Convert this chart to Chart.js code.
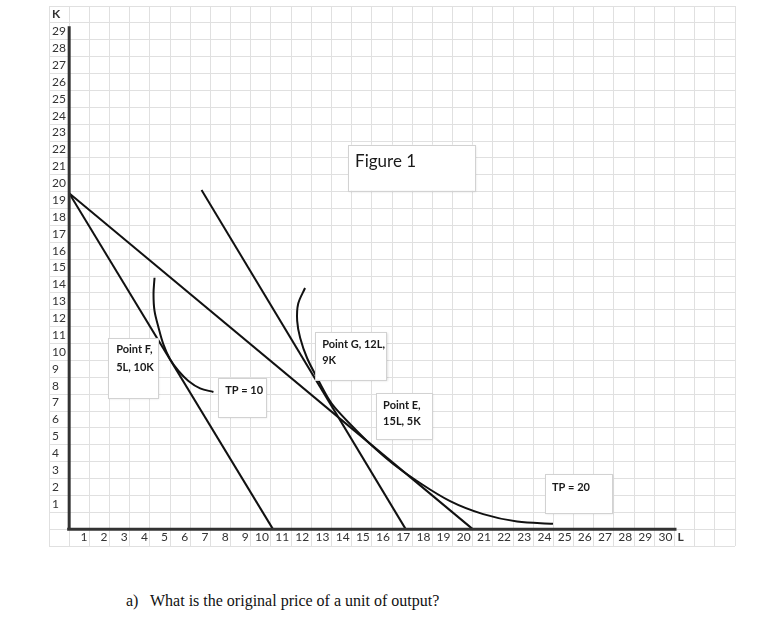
<!DOCTYPE html>
<html>
<head>
<meta charset="utf-8">
<script src="https://cdn.jsdelivr.net/npm/chart.js@4.4.1/dist/chart.umd.min.js"></script>
<style>
  html, body { margin: 0; padding: 0; background: #fff; }
  #wrap { position: relative; width: 768px; height: 620px; }
  canvas { position: absolute; left: 0; top: 0; }
  #pergunta { position: absolute; left: 126px; top: 592px; line-height: 18px;
    font-family: "Liberation Serif", "Times New Roman", serif; font-size: 16px; color: #111; white-space: nowrap; }
  #pergunta span { display: inline-block; width: 24px; }
</style>
</head>
<body>
<div id="wrap">
  <canvas id="grafico" width="768" height="560"></canvas>
  <div id="pergunta"><span>a)</span>What is the original price of a unit of output?</div>
</div>
<script>
// --- DADOS (L no eixo x, K no eixo y) ---
const kTicks = [1, 2, 3, 4, 5, 6, 7, 8, 9, 10, 11, 12, 13, 14, 15, 16, 17, 18, 19, 20, 21, 22, 23, 24, 25, 26, 27, 28, 29];
const lTicks = [1, 2, 3, 4, 5, 6, 7, 8, 9, 10, 11, 12, 13, 14, 15, 16, 17, 18, 19, 20, 21, 22, 23, 24, 25, 26, 27, 28, 29, 30];
const kAxisName = 'K';
const lAxisName = 'L';

// retas de isocusto
const lineAL = [0, 10.1];
const lineAK = [19.9, 0];
const lineBL = [0, 20.0];
const lineBK = [19.9, 0];
const lineCL = [6.56, 16.68];
const lineCK = [20.1, 0];

// isoquantas
const tp10L = [4.23, 4.18, 4.23, 4.43, 4.67, 5.0, 5.42, 5.91, 6.49, 7.15];
const tp10K = [14.9, 13.92, 12.93, 11.94, 10.95, 10.06, 9.37, 8.78, 8.34, 8.13];
const tp20L = [11.69, 11.35, 11.30, 11.45, 11.79, 12.29, 12.83, 13.18, 13.92, 14.92, 16.06, 17.24, 18.88, 20.52, 22.20, 23.98];
const tp20K = [14.29, 13.35, 12.34, 11.33, 10.14, 8.96, 7.77, 7.18, 6.23, 5.04, 3.86, 2.85, 1.66, 0.89, 0.45, 0.32];

// eixos desenhados
const axisYL = [0, 0];
const axisYK = [0, 29.8];
const axisXL = [-0.1, 30.1];
const axisXK = [0, 0];

// textos das caixas
const noteTexts = [['Figure 1'], ['Point F,', '5L, 10K'], ['TP = 10'], ['Point G, 12L,', '9K'], ['Point E,', '15L, 5K'], ['TP = 20']];

// posição das caixas (em unidades L/K) — layout, não dados
const noteLayout = [
  { l0: 13.83, l1: 20.12, k0: 22.78, k1: 20.05, tl: 14.17, tk: [21.77], big: true },
  { l0: 1.93, l1: 4.41, k0: 11.33, k1: 7.77, tl: 2.33, tk: [10.62, 9.61] },
  { l0: 7.38, l1: 9.76, k0: 8.96, k1: 6.64, tl: 7.73, tk: [8.24] },
  { l0: 12.19, l1: 15.73, k0: 11.68, k1: 8.84, tl: 12.54, tk: [10.97, 10.02] },
  { l0: 15.21, l1: 17.99, k0: 8.07, k1: 5.34, tl: 15.56, tk: [7.35, 6.41] },
  { l0: 23.59, l1: 26.91, k0: 3.26, k1: 0.95, tl: 23.93, tk: [2.49] }
];

const FONTE = 'Lato, "Open Sans", sans-serif';

function pontos(ls, ks) {
  return ls.map((l, i) => ({ x: l, y: ks[i] }));
}

function serie(ls, ks, extra) {
  return Object.assign({
    data: pontos(ls, ks),
    showLine: true,
    borderColor: '#111',
    borderWidth: 2,
    pointRadius: 0,
    fill: false
  }, extra || {});
}

// caixas de texto
const caixas = {
  id: 'caixas',
  afterDatasetsDraw(chart) {
    const { ctx, scales: { x, y } } = chart;
    noteLayout.forEach((n, i) => {
      const px0 = x.getPixelForValue(n.l0), px1 = x.getPixelForValue(n.l1);
      const py0 = y.getPixelForValue(n.k0), py1 = y.getPixelForValue(n.k1);
      ctx.save();
      ctx.shadowColor = 'rgba(0,0,0,0.12)';
      ctx.shadowBlur = 2;
      ctx.shadowOffsetX = 1;
      ctx.shadowOffsetY = 1;
      ctx.fillStyle = '#fff';
      ctx.fillRect(px0, py0, px1 - px0, py1 - py0);
      ctx.restore();
      ctx.save();
      ctx.strokeStyle = '#d2d2d2';
      ctx.lineWidth = 1;
      ctx.strokeRect(Math.round(px0) + 0.5, Math.round(py0) + 0.5, Math.round(px1 - px0), Math.round(py1 - py0));
      ctx.fillStyle = '#1a1a1a';
      ctx.textAlign = 'left';
      ctx.textBaseline = 'middle';
      ctx.font = n.big ? '17px ' + FONTE : 'bold 11px ' + FONTE;
      noteTexts[i].forEach((t, j) => {
        ctx.fillText(t, x.getPixelForValue(n.tl), y.getPixelForValue(n.tk[j]));
      });
      ctx.restore();
    });
  }
};

// rótulos estilo planilha
const rotulos = {
  id: 'rotulos',
  afterDraw(chart) {
    const { ctx, scales: { x, y } } = chart;
    ctx.save();
    ctx.fillStyle = '#333';
    ctx.textBaseline = 'middle';
    ctx.font = '12px ' + FONTE;
    ctx.textAlign = 'left';
    const xEsq = x.getPixelForValue(-1) + 3;
    kTicks.forEach(v => ctx.fillText(String(v), xEsq, y.getPixelForValue(v + 0.5)));
    ctx.textAlign = 'right';
    const yBase = y.getPixelForValue(-0.5);
    lTicks.forEach(v => ctx.fillText(String(v), x.getPixelForValue(v) - 2, yBase));
    ctx.font = 'bold 12px ' + FONTE;
    ctx.textAlign = 'left';
    ctx.fillText(kAxisName, xEsq, y.getPixelForValue(30.5));
    ctx.fillText(lAxisName, x.getPixelForValue(30) + 3, yBase);
    ctx.restore();
  }
};

const gradeOpts = (min, max) => ({
  type: 'linear',
  min: min,
  max: max,
  grid: { color: '#e0e0e0', lineWidth: 1, drawTicks: false },
  border: { display: false },
  ticks: { display: false, stepSize: 1, autoSkip: false, maxTicksLimit: 200 }
});

new Chart(document.getElementById('grafico').getContext('2d'), {
  type: 'scatter',
  data: {
    datasets: [
      serie(axisYL, axisYK, { borderColor: '#333', borderWidth: 3 }),
      serie(axisXL, axisXK, { borderColor: '#333', borderWidth: 3 }),
      serie(lineAL, lineAK),
      serie(lineBL, lineBK),
      serie(lineCL, lineCK),
      serie(tp10L, tp10K, { tension: 0.35 }),
      serie(tp20L, tp20K, { tension: 0.35 })
    ]
  },
  options: {
    responsive: false,
    animation: false,
    layout: { padding: { left: 49, right: 33, top: 6, bottom: 14 } },
    plugins: { legend: { display: false }, tooltip: { enabled: false } },
    scales: { x: gradeOpts(-1, 33), y: gradeOpts(-1, 31) }
  },
  plugins: [caixas, rotulos]
});
</script>
</body>
</html>
